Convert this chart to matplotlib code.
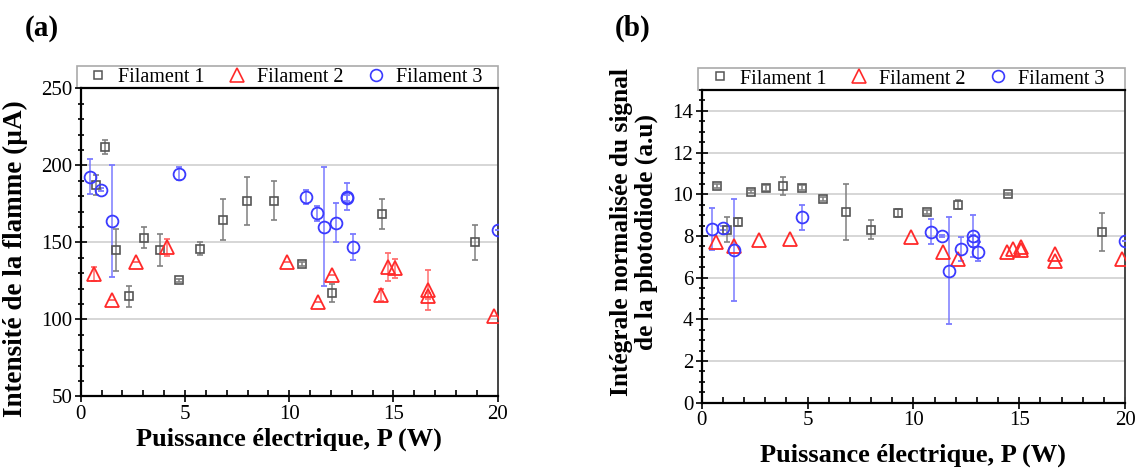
import numpy as np
import matplotlib
matplotlib.use('Agg')
import matplotlib.pyplot as plt
from matplotlib.ticker import MultipleLocator
from matplotlib.lines import Line2D
from matplotlib.patches import Rectangle

plt.rcParams['font.family'] = ['Liberation Serif', 'DejaVu Serif']

# (a) flame current, uA
f1_p = [0.74, 1.15, 1.69, 2.30, 3.02, 3.80, 4.72, 5.72, 6.81, 7.99, 9.26, 10.63, 12.07, 14.47, 18.91]
f1_i = [187.2, 211.9, 145.0, 114.9, 153.0, 145.2, 125.3, 145.9, 164.7, 176.6, 177.1, 135.9, 117.1, 168.2, 150.0]
f1_i_err = [6.7, 4.4, 13.9, 7.0, 6.7, 10.5, 1.0, 4.4, 13.5, 15.5, 12.5, 1.5, 6.0, 9.7, 11.3]

f2_p = [0.66, 1.49, 2.65, 4.16, 9.90, 11.40, 12.05, 14.42, 14.76, 15.08, 16.67, 16.67, 19.82]
f2_i = [129.4, 112.3, 137.4, 146.8, 137.4, 111.5, 128.8, 115.8, 133.8, 133.1, 119.0, 115.2, 102.4]
f2_i_err = [4.5, 0.0, 0.0, 5.4, 0.0, 0.0, 0.0, 4.0, 9.0, 6.0, 13.0, 2.0, 0.0]

f3_p = [0.45, 0.99, 1.50, 4.73, 10.82, 11.33, 11.65, 12.23, 12.77, 12.79, 13.05, 20.0]
f3_i = [192.6, 184.0, 163.6, 194.6, 179.2, 168.8, 160.2, 162.8, 179.7, 178.6, 147.2, 158.2]
f3_i_err = [11.3, 1.0, 36.4, 4.0, 4.5, 5.0, 38.5, 12.7, 8.7, 2.0, 8.5, 0.0]

# (b) normalised photodiode integral, a.u.
f1_pb = [0.74, 1.18, 1.70, 2.33, 3.02, 3.84, 4.72, 5.72, 6.82, 8.00, 9.28, 10.65, 12.10, 14.49, 18.91]
f1_s = [10.4, 8.29, 8.66, 10.13, 10.29, 10.40, 10.32, 9.76, 9.15, 8.30, 9.10, 9.14, 9.50, 10.0, 8.19]
f1_s_err = [0.1, 0.6, 0.2, 0.08, 0.15, 0.44, 0.1, 0.1, 1.35, 0.46, 0.2, 0.08, 0.2, 0.05, 0.93]

f2_pb = [0.68, 1.53, 2.69, 4.19, 9.90, 11.42, 12.09, 14.41, 14.73, 15.07, 15.09, 16.69, 16.69, 19.84]
f2_s = [7.70, 7.54, 7.81, 7.86, 7.94, 7.22, 6.90, 7.22, 7.39, 7.49, 7.33, 7.14, 6.82, 6.88]

f3_pb = [0.47, 1.02, 1.54, 4.76, 10.85, 11.35, 11.67, 12.24, 12.80, 12.80, 13.06, 20.0]
f3_s = [8.32, 8.37, 7.33, 8.90, 8.19, 8.00, 6.34, 7.39, 8.00, 7.76, 7.25, 7.76]
f3_s_err = [1.0, 0.1, 2.43, 0.6, 0.6, 0.05, 2.58, 0.58, 1.0, 0.3, 0.45, 0.0]

labels = ['Filament 1', 'Filament 2', 'Filament 3']

c1, c2, c3 = '#555555', '#ff2a2a', '#3a3aff'
e1, e2, e3 = '#808080', '#ff7070', '#7a7aff'
ms1, ms2, ms3 = 6.3, 9.5, 8.5

fig = plt.figure(figsize=(11.4, 4.68), dpi=100)
W, H = 1140, 468
ax1 = fig.add_axes([80.7 / W, 1 - 396.3 / H, 417 / W, 308 / H])
ax2 = fig.add_axes([701.7 / W, 1 - 402.7 / H, 423.3 / W, 312.7 / H])


def draw(ax, x1, y1, e1y, x2, y2, e2y, x3, y3, e3y):
    kw = dict(linestyle='none', capsize=2.3, elinewidth=1.1, capthick=1.1,
              zorder=3)
    ax.errorbar(x1, y1, yerr=e1y, fmt='s', ms=ms1, mfc='none', mec=c1, mew=1.2,
                ecolor=e1, **kw)
    ax.errorbar(x2, y2, yerr=e2y, fmt='^', ms=ms2, mfc='none', mec=c2, mew=1.3,
                ecolor=e2, **kw)
    ax.errorbar(x3, y3, yerr=e3y, fmt='o', ms=ms3, mfc='none', mec=c3, mew=1.3,
                ecolor=e3, **kw)


def style(ax, legx, xpad):
    ax.set_xlim(0, 20)
    ax.xaxis.set_major_locator(MultipleLocator(5))
    ax.xaxis.set_minor_locator(MultipleLocator(1))
    ax.grid(axis='y', color='#d0d0d0', lw=1.2, zorder=0)
    ax.tick_params(which='both', direction='inout', labelsize=15, width=1.2,
                   pad=2)
    ax.tick_params(which='major', length=8)
    ax.tick_params(which='minor', length=4)
    ax.tick_params(axis='x', which='minor', direction='in', length=4)
    for s in ['left', 'bottom', 'top']:
        ax.spines[s].set_linewidth(1.6)
        ax.spines[s].set_color('black')
    ax.spines['right'].set_linewidth(1.4)
    ax.spines['right'].set_color('#444444')
    ax.set_xlabel('Puissance électrique, P (W)', fontsize=19, fontweight='bold',
                  labelpad=xpad)
    # legend box sitting on top of the axes
    hbox = 22 / (ax.bbox.height)
    ax.add_patch(Rectangle((-0.008, 1.0), 1.008, hbox, transform=ax.transAxes,
                           fill=False, ec='#aaaaaa', lw=1.2, clip_on=False))
    handles = [
        Line2D([], [], ls='none', marker='s', ms=ms1, mfc='none', mec=c1, mew=1.1),
        Line2D([], [], ls='none', marker='^', ms=ms2, mfc='none', mec=c2, mew=1.2),
        Line2D([], [], ls='none', marker='o', ms=ms3, mfc='none', mec=c3, mew=1.2),
    ]
    ax.legend(handles, labels, loc='center', bbox_to_anchor=(legx, 1.0 + hbox / 2),
              ncol=3, borderaxespad=0, fontsize=14.5, frameon=False,
              handletextpad=0.3, borderpad=0.0, handlelength=1.4,
              columnspacing=0.9)


draw(ax1, f1_p, f1_i, f1_i_err, f2_p, f2_i, f2_i_err, f3_p, f3_i, f3_i_err)
style(ax1, 0.485, 3)
ax1.set_ylim(50, 250)
ax1.yaxis.set_major_locator(MultipleLocator(50))
ax1.yaxis.set_minor_locator(MultipleLocator(10))
ax1.set_ylabel('Intensité de la flamme (µA)', fontsize=19.5, fontweight='bold')
ax1.yaxis.set_label_coords(-0.126, 0.446)

draw(ax2, f1_pb, f1_s, f1_s_err, f2_pb, f2_s, None, f3_pb, f3_s, f3_s_err)
style(ax2, 0.481, 10)
ax2.set_ylim(0, 15)
ax2.yaxis.set_major_locator(MultipleLocator(2))
ax2.yaxis.set_minor_locator(MultipleLocator(0.5))
ax2.set_ylabel('Intégrale normalisée du signal\nde la photodiode (a.u)',
               fontsize=18.3, fontweight='bold', linespacing=1.1)
ax2.yaxis.set_label_coords(-0.103, 0.546)

fig.text(42 / W, 1 - 28 / H, '(a)', fontsize=21, fontweight='bold',
         ha='center', va='center')
fig.text(633 / W, 1 - 28 / H, '(b)', fontsize=21, fontweight='bold',
         ha='center', va='center')

fig.savefig('out.png', dpi=100, facecolor='white')
